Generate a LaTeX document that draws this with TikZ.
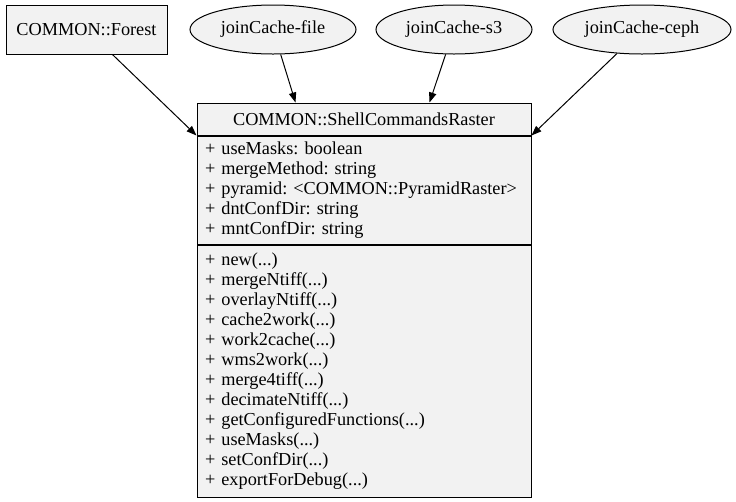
\documentclass[tikz,border=0pt]{standalone}
\usepackage{fontspec}
\setmainfont{Liberation Serif}
\usetikzlibrary{shapes.geometric,arrows.meta,calc}
\definecolor{nodefill}{HTML}{F2F2F2}
\begin{document}
\frenchspacing
\begin{tikzpicture}[x=0.75pt,y=-0.75pt,
  every node/.style={font={\fontsize{13.7}{15}\selectfont}},
  boxnode/.style={draw=black,line width=0.75pt,fill=nodefill,rectangle,inner sep=0pt},
  ellnode/.style={draw=black,line width=0.75pt,fill=nodefill,ellipse,inner sep=0pt,minimum height=36.75pt},
  section/.style={boxnode,anchor=north,minimum width=250.5pt,text width=238.5pt,align=left,inner xsep=6pt,inner ysep=0pt},
  edge/.style={line width=0.75pt,-{Triangle[length=7.5pt,width=5.5pt]}}]
\useasboundingbox (0,0) rectangle (736,501);
\node[boxnode,minimum width=120.75pt,minimum height=36.75pt] (forest) at (86.5,29.5) {COMMON::Forest};
\node[ellnode,minimum width=124.5pt] (file) at (273,29.5) {joinCache-file};
\node[ellnode,minimum width=117pt] (s3) at (454,29.5) {joinCache-s3};
\node[ellnode,minimum width=133.5pt] (ceph) at (642,29.5) {joinCache-ceph};
\node[boxnode,minimum width=250.5pt,minimum height=24pt] (hdr) at (364,119) {COMMON::ShellCommandsRaster};
\node[section,minimum height=81pt] (attr) at (hdr.south) {+ useMasks: boolean\\
+ mergeMethod: string\\
+ pyramid: <COMMON::PyramidRaster>\\
+ dntConfDir: string\\
+ mntConfDir: string};
\node[section,minimum height=189pt] (meth) at (attr.south) {+ new(...)\\
+ mergeNtiff(...)\\
+ overlayNtiff(...)\\
+ cache2work(...)\\
+ work2cache(...)\\
+ wms2work(...)\\
+ merge4tiff(...)\\
+ decimateNtiff(...)\\
+ getConfiguredFunctions(...)\\
+ useMasks(...)\\
+ setConfDir(...)\\
+ exportForDebug(...)};
\coordinate (tfile) at ($(hdr.north west)+(99,0)$);
\coordinate (ts3) at ($(hdr.north west)+(233,0)$);
\draw[edge] (forest) -- (hdr.south west);
\draw[edge] (file) -- (tfile);
\draw[edge] (s3) -- (ts3);
\draw[edge] (ceph) -- (hdr.south east);
\end{tikzpicture}
\end{document}
